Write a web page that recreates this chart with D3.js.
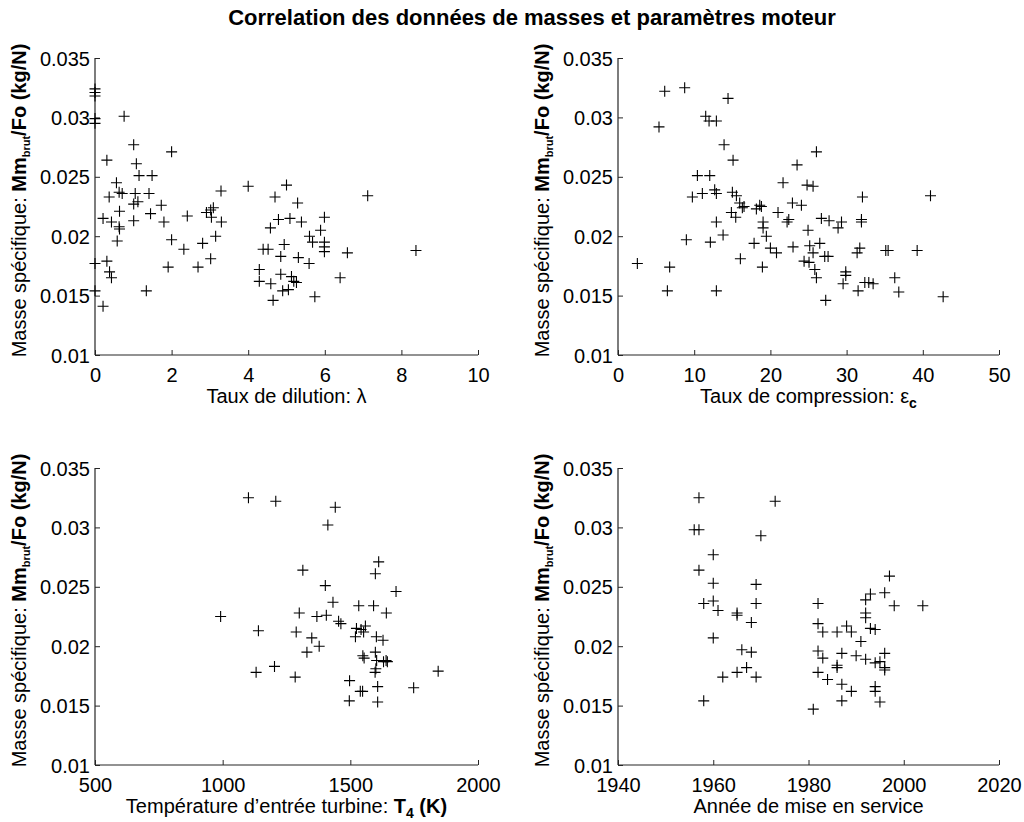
<!DOCTYPE html>
<html>
<head>
<meta charset="utf-8">
<script src="https://cdn.jsdelivr.net/npm/d3@7/dist/d3.min.js"></script>
<style>
  html, body { margin: 0; padding: 0; background: #fff; }
  svg text { font-family: "Liberation Sans", Arial, Helvetica, sans-serif; white-space: pre; }
</style>
</head>
<body>
<svg id="chart" width="1024" height="822"></svg>
<script>
// ---------- DATA ----------
const chartTitle = "Correlation des données de masses et paramètres moteur";
const massTicks = [0.01, 0.015, 0.02, 0.025, 0.03, 0.035];
const massTickLabels = ["0.01", "0.015", "0.02", "0.025", "0.03", "0.035"];

// Plot 1: Taux de dilution (lambda)
const dilutionTicks = [0, 2, 4, 6, 8, 10];
const dilutionX = [0,0,0,0,0,0.76,1.01,2.0,0.31,1.08,1.15,1.49,0.56,4.0,0.37,0.63,0.71,1.05,1.41,3.29,1.01,1.12,1.73,0.64,0.21,0.43,0.63,0.64,1.01,1.45,1.80,2.41,2.91,3.02,3.09,3.04,3.30,0.58,2.0,2.32,2.81,3.15,0,0.31,0.38,0.43,1.91,2.69,3.02,0,1.34,0.21,
  5.0,4.70,5.29,4.79,5.09,5.39,4.58,5.99,5.89,5.60,5.68,5.99,5.99,5.99,6.59,8.38,7.12,4.39,4.52,4.94,4.85,5.31,5.59,4.29,4.29,4.59,4.85,5.13,5.19,5.26,6.40,4.90,5.05,4.65,5.74];
const dilutionMass = [0.0324,0.0321,0.0318,0.0299,0.0295,0.0301,0.0277,0.0271,0.0264,0.0261,0.0251,0.0251,0.0245,0.0242,0.0233,0.0237,0.0236,0.0236,0.0236,0.0238,0.0227,0.0229,0.0226,0.0221,0.0215,0.0212,0.0208,0.0206,0.0213,0.0219,0.0212,0.0217,0.0220,0.0222,0.0224,0.0216,0.0212,0.0196,0.0197,0.0189,0.0194,0.0200,0.0177,0.0179,0.0170,0.0165,0.0174,0.0174,0.0181,0.0154,0.0154,0.0141,
  0.0243,0.0233,0.0228,0.0214,0.0215,0.0212,0.0207,0.0216,0.0205,0.0200,0.0195,0.0195,0.0191,0.0187,0.0186,0.0188,0.0234,0.0189,0.0189,0.0193,0.0183,0.0182,0.0177,0.0172,0.0162,0.0160,0.0168,0.0166,0.0162,0.0161,0.0165,0.0154,0.0155,0.0146,0.0149];

// Plot 2: Taux de compression (epsilon_c)
const compressionTicks = [0, 10, 20, 30, 40, 50];
const compressionX = [6.13,8.75,5.38,14.44,11.51,11.95,12.91,13.92,15.10,10.42,12.04,9.76,11.07,12.69,12.91,15.01,15.54,15.97,16.32,16.54,14.88,15.45,18.16,18.60,18.82,21.0,19.04,19.04,19.47,20.0,12.91,13.79,12.12,8.97,17.86,16.06,18.95,2.54,6.78,6.48,12.91,20.8,
  26.04,23.50,21.66,24.81,25.60,32.08,41.01,22.89,24.07,22.41,22.19,26.69,27.70,29.33,28.88,31.95,31.95,24.94,22.97,25.16,26.48,25.60,27.13,27.57,31.73,31.38,35.14,35.45,39.26,24.42,25.07,25.83,26.04,29.89,29.89,29.54,32.39,32.91,33.48,36.32,31.51,36.85,27.26,42.67];
const compressionMass = [0.0322,0.0325,0.0292,0.0316,0.0301,0.0297,0.0297,0.0277,0.0264,0.0251,0.0251,0.0233,0.0236,0.0239,0.0236,0.0237,0.0234,0.0228,0.0224,0.0225,0.0220,0.0216,0.0223,0.0226,0.0225,0.0220,0.0212,0.0207,0.0200,0.0190,0.0212,0.0201,0.0195,0.0197,0.0194,0.0181,0.0174,0.0177,0.0174,0.0154,0.0154,0.0186,
  0.0271,0.0260,0.0245,0.0243,0.0242,0.0233,0.0234,0.0228,0.0226,0.0214,0.0212,0.0215,0.0213,0.0212,0.0207,0.0214,0.0212,0.0205,0.0191,0.0192,0.0194,0.0186,0.0183,0.0183,0.0190,0.0186,0.0188,0.0188,0.0188,0.0179,0.0178,0.0172,0.0165,0.0170,0.0167,0.0160,0.0161,0.0161,0.0160,0.0165,0.0154,0.0153,0.0146,0.0149];

// Plot 3: Temperature d'entree turbine T4 (K)
const temperatureTicks = [500, 1000, 1500, 2000];
const temperatureX = [1101,992,1140,1131,1208,1441,1412,1611,1598,1314,1402,1679,1432,1533,1591,1641,1300,1369,1406,1454,1463,1288,1349,1378,1330,1524,1542,1559,1552,1520,1602,1628,1598,1549,1554,1603,1630,1640,1645,1600,1597,1844,1203,1284,1497,1607,1748,1539,1548,1496,1607];
const temperatureMass = [0.0325,0.0225,0.0213,0.0178,0.0322,0.0317,0.0302,0.0271,0.0261,0.0264,0.0251,0.0246,0.0237,0.0234,0.0234,0.0228,0.0228,0.0225,0.0226,0.0221,0.0219,0.0212,0.0207,0.0200,0.0195,0.0215,0.0214,0.0217,0.0212,0.0208,0.0208,0.0205,0.0195,0.0192,0.0190,0.0188,0.0187,0.0188,0.0187,0.0181,0.0178,0.0179,0.0183,0.0174,0.0171,0.0166,0.0165,0.0162,0.0162,0.0154,0.0153];

// Plot 4: Annee de mise en service
const yearTicks = [1940, 1960, 1980, 2000, 2020];
const yearX = [1957,1956,1957,1960,1957,1960,1969,1973,1970,1958,1960,1961,1969,1965,1965,1968,1960,1966,1968,1967,1965,1962,1969,1958,
  1997,1993,1992,1996,1998,2004,1982,1992,1992,1982,1983,1986,1988,1989,1993,1994,1991,1982,1983,1987,1990,1986,1986,1992,1994,1995,1996,1996,1996,1982,1984,1987,1989,1994,1994,1987,1995,1981];
const yearMass = [0.0325,0.0298,0.0298,0.0277,0.0264,0.0253,0.0252,0.0322,0.0293,0.0236,0.0238,0.0230,0.0236,0.0228,0.0226,0.0220,0.0207,0.0197,0.0195,0.0182,0.0178,0.0174,0.0174,0.0154,
  0.0259,0.0244,0.0239,0.0245,0.0234,0.0234,0.0236,0.0228,0.0224,0.0219,0.0212,0.0212,0.0217,0.0212,0.0215,0.0214,0.0204,0.0196,0.0190,0.0194,0.0192,0.0184,0.0182,0.0189,0.0186,0.0187,0.0194,0.0182,0.0180,0.0178,0.0172,0.0168,0.0162,0.0166,0.0162,0.0154,0.0153,0.0147];

// ---------- LAYOUT ----------
const svg = d3.select("#chart");
svg.append("rect").attr("width", 1024).attr("height", 822).attr("fill", "#fff");

const FONT = 20;
const colX = [{ l: 95, r: 478 }, { l: 618, r: 999 }];
const rowY = [{ t: 58, b: 355 }, { t: 468, b: 765 }];
const axisColor = "#262626";

svg.append("text")
  .attr("x", 532).attr("y", 25)
  .attr("text-anchor", "middle")
  .attr("font-size", 22).attr("font-weight", "bold").attr("fill", "#000")
  .text(chartTitle);

const panels = [
  { xs: dilutionX, ys: dilutionMass, dom: [0, 10], ticks: dilutionTicks, col: 0, row: 0,
    xlabel: [{ t: "Taux de dilution: " }, { t: "λ" }] },
  { xs: compressionX, ys: compressionMass, dom: [0, 50], ticks: compressionTicks, col: 1, row: 0,
    xlabel: [{ t: "Taux de compression: " }, { t: "ε" }, { t: "c", b: true, sub: true }] },
  { xs: temperatureX, ys: temperatureMass, dom: [500, 2000], ticks: temperatureTicks, col: 0, row: 1,
    xlabel: [{ t: "Température d’entrée turbine: " }, { t: "T", b: true }, { t: "4", b: true, sub: true }, { t: " (K)", b: true, up: true }] },
  { xs: yearX, ys: yearMass, dom: [1940, 2020], ticks: yearTicks, col: 1, row: 1,
    xlabel: [{ t: "Année de mise en service" }] }
];

panels.forEach(p => {
  const c = colX[p.col], r = rowY[p.row];
  const x = d3.scaleLinear().domain(p.dom).range([c.l, c.r]);
  const y = d3.scaleLinear().domain([0.01, 0.035]).range([r.b, r.t]);
  const g = svg.append("g");

  // x axis (ticks pointing inward)
  const xa = g.append("g").attr("transform", `translate(0,${r.b})`)
    .call(d3.axisBottom(x).tickValues(p.ticks).tickSize(-5).tickPadding(0).tickFormat(d3.format("d")));
  xa.select(".domain").attr("stroke", axisColor).attr("stroke-width", 1.2).attr("d", `M${c.l},0H${c.r}`);
  xa.selectAll(".tick line").attr("stroke", axisColor);
  xa.selectAll(".tick text").attr("y", 27).attr("dy", null)
    .attr("font-size", FONT).attr("fill", "#000").style("font-family", "'Liberation Sans', Arial, sans-serif");

  // y axis
  const ya = g.append("g").attr("transform", `translate(${c.l},0)`)
    .call(d3.axisLeft(y).tickValues(massTicks).tickSize(-5).tickPadding(0)
      .tickFormat((d, i) => massTickLabels[i]));
  ya.select(".domain").attr("stroke", axisColor).attr("stroke-width", 1.2).attr("d", `M0,${r.t}V${r.b}`);
  ya.selectAll(".tick line").attr("stroke", axisColor);
  ya.selectAll(".tick text").attr("x", -5).attr("dy", "0.35em")
    .attr("font-size", FONT).attr("fill", "#000").style("font-family", "'Liberation Sans', Arial, sans-serif");

  // y label
  const yl = g.append("text")
    .attr("transform", `translate(${c.l - 69},${(r.t + r.b) / 2 - 6}) rotate(-90)`)
    .attr("text-anchor", "middle").attr("font-size", FONT).attr("fill", "#000");
  yl.append("tspan").text("Masse spécifique: ");
  yl.append("tspan").attr("font-weight", "bold").text("Mm");
  yl.append("tspan").attr("font-weight", "bold").attr("font-size", 11).attr("dy", 4).text("brut");
  yl.append("tspan").attr("font-weight", "bold").attr("dy", -4).text("/Fo (kg/N)");

  // x label
  const xl = g.append("text")
    .attr("x", (c.l + c.r) / 2).attr("y", r.b + 48)
    .attr("text-anchor", "middle").attr("font-size", FONT).attr("fill", "#000");
  let shifted = 0;
  p.xlabel.forEach(part => {
    const ts = xl.append("tspan").text(part.t);
    if (part.b) ts.attr("font-weight", "bold");
    if (part.sub) { ts.attr("dy", 5).attr("font-size", 14); shifted = 5; }
    if (part.up) { ts.attr("dy", -shifted); shifted = 0; }
  });

  // markers '+'
  const s = 5.5;
  g.append("g").selectAll("path").data(p.xs.map((v, i) => [v, p.ys[i]])).join("path")
    .attr("d", d => {
      const px = x(d[0]), py = y(d[1]);
      return `M${px - s},${py}H${px + s}M${px},${py - s}V${py + s}`;
    })
    .attr("stroke", "#000").attr("stroke-width", 1.1).attr("fill", "none");
});
</script>
</body>
</html>
